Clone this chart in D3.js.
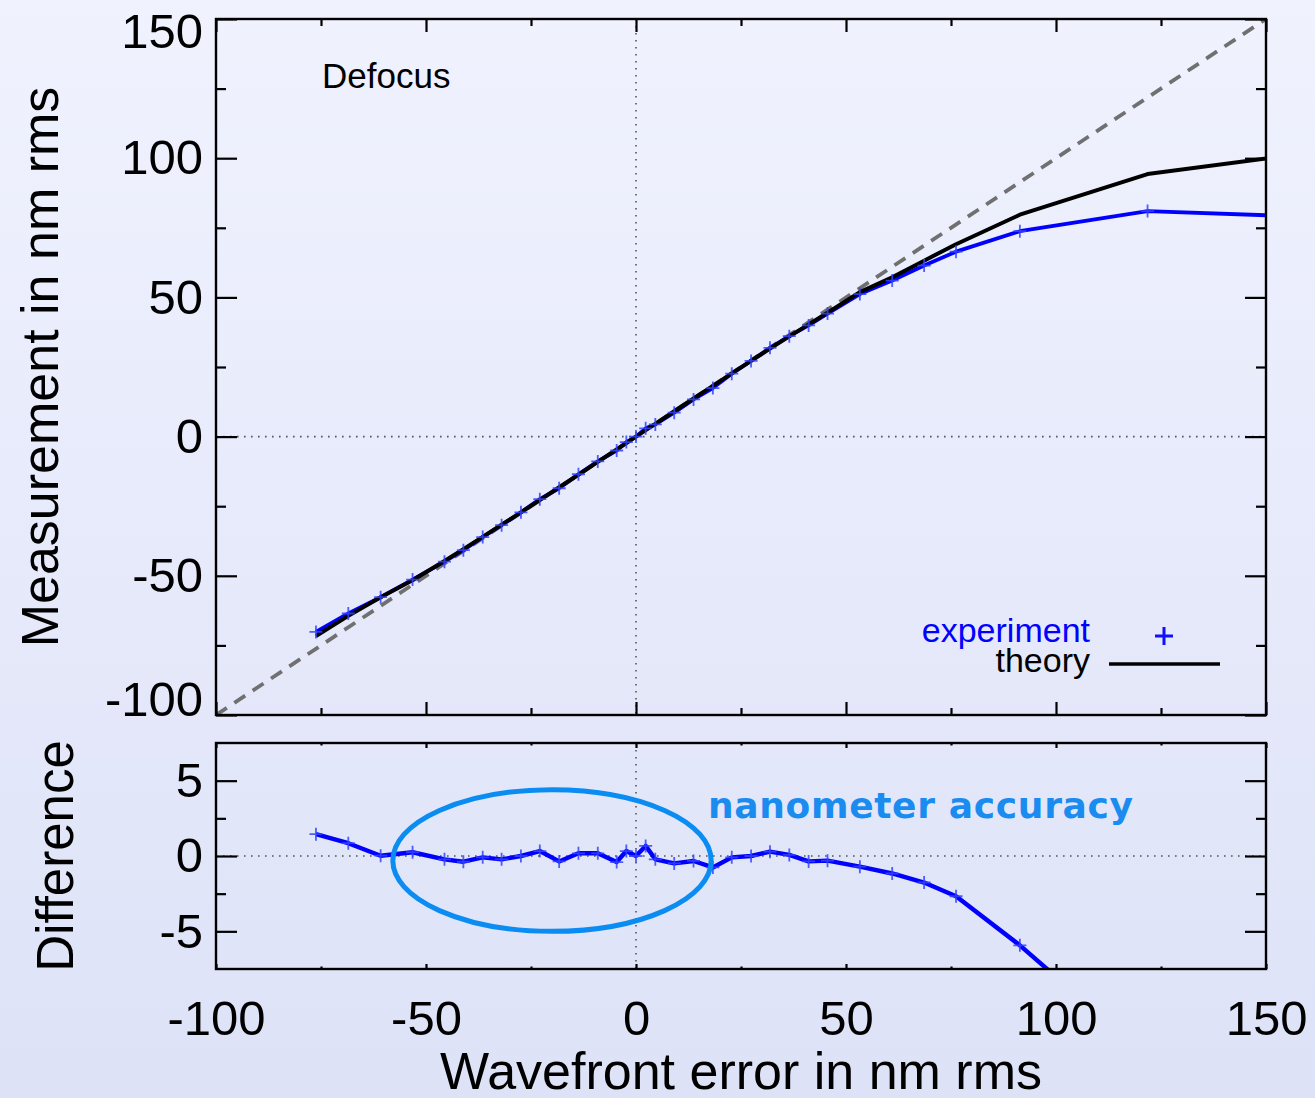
<!DOCTYPE html>
<html>
<head>
<meta charset="utf-8">
<script src="https://cdn.jsdelivr.net/npm/d3@7"></script>
<style>
  html, body { margin: 0; padding: 0; }
  body { width: 1315px; height: 1098px; overflow: hidden; }
</style>
</head>
<body>
<div id="chart"></div>
<script>
// wavefront error (x), shared by every series
const xVals = [-76.2,-68.5,-60.8,-53.2,-45.6,-41.1,-36.5,-32.0,-27.4,-22.9,-18.3,-13.7,-9.1,-4.6,-2.3,0,
               2.3,4.6,9.1,13.7,18.3,22.8,27.4,31.9,36.5,41.1,45.6,53.3,61.0,68.6,76.2,91.4,121.8,152.0];
const theory = [-71.6,-64.4,-57.7,-51.6,-44.7,-40.4,-36.0,-31.6,-27.2,-22.8,-18.2,-13.7,-9.1,-4.6,-2.3,0,
                2.3,4.6,9.1,13.7,18.2,22.7,27.2,31.6,36.0,40.3,44.5,51.9,57.2,63.2,69.1,79.7,94.3,100.3];
const experiment = [-70.15,-63.55,-57.68,-51.35,-44.92,-40.78,-36.09,-31.82,-27.2,-22.47,-18.56,-13.52,-8.92,-5.0,-1.97,0,
                    2.97,4.38,8.61,13.37,17.44,22.61,27.2,31.89,36.07,39.94,44.19,51.19,56.04,61.44,66.43,73.77,81.0,79.4];
const difference = [1.45,0.85,0.02,0.25,-0.22,-0.38,-0.09,-0.22,0.0,0.33,-0.36,0.18,0.18,-0.40,0.33,0.0,
                    0.67,-0.22,-0.49,-0.33,-0.76,-0.09,0.0,0.29,0.07,-0.36,-0.31,-0.71,-1.16,-1.76,-2.67,-5.93,-13.3,-20.9];

const xTicks = [-100,-50,0,50,100,150];
const xMinor = [-75,-25,25,75,125];
const yTopTicks = [-100,-50,0,50,100,150];
const yTopMinor = [-75,-25,25,75,125];
const yBotTicks = [-5,0,5];
const yBotMinor = [-2.5,2.5];
const idealLine = [-100,150];   // y = x reference
const ellipseMark = {cx:-20, cy:-0.3, rx:37.9, ry:4.7};

const W = 1315, H = 1098;
const left = 216, right = 1266;
const topT = 19, topB = 715;
const botT = 743, botB = 969;
const font = "'Liberation Sans', Arial, Helvetica, sans-serif";
const fmt = d => String(d);   // plain hyphen minus, like the original

const svg = d3.select("#chart").append("svg")
    .attr("width", W).attr("height", H)
    .attr("viewBox", `0 0 ${W} ${H}`);

const defs = svg.append("defs");
const grad = defs.append("linearGradient").attr("id","bg").attr("x1",0).attr("y1",0).attr("x2",0).attr("y2",1);
grad.append("stop").attr("offset","0%").attr("stop-color","#f0f2fe");
grad.append("stop").attr("offset","100%").attr("stop-color","#dde2f7");
svg.append("rect").attr("width",W).attr("height",H).attr("fill","url(#bg)");

defs.append("clipPath").attr("id","clipTop").append("rect")
    .attr("x",left).attr("y",topT).attr("width",right-left).attr("height",topB-topT);
defs.append("clipPath").attr("id","clipBot").append("rect")
    .attr("x",left).attr("y",botT).attr("width",right-left).attr("height",botB-botT);

const x = d3.scaleLinear().domain([-100,150]).range([left,right]);
const yTop = d3.scaleLinear().domain([-100,150]).range([topB,topT]);
const yBot = d3.scaleLinear().domain([-7.5,7.5]).range([botB,botT]);

const pts = (ys) => xVals.map((v,i) => [v, ys[i]]);
const plus = (s) => `M${-s},0H${s}M0,${-s}V${s}`;

function styleAxis(g, size) {
    g.select(".domain").remove();
    g.selectAll("line").attr("stroke","#000").attr("stroke-width",2.2);
    g.selectAll("text").attr("font-family",font).attr("font-size",size).attr("fill","#000");
}

// ---------- top panel ----------
const gt = svg.append("g");

// zero lines
gt.append("line").attr("x1",x(0)).attr("x2",x(0)).attr("y1",topT).attr("y2",topB)
    .attr("stroke","#555").attr("stroke-width",1.6).attr("stroke-dasharray","1.6,5.4");
gt.append("line").attr("x1",left).attr("x2",right).attr("y1",yTop(0)).attr("y2",yTop(0))
    .attr("stroke","#555").attr("stroke-width",1.6).attr("stroke-dasharray","1.6,5.4");

const ct = gt.append("g").attr("clip-path","url(#clipTop)");
ct.append("line")
    .attr("x1",x(idealLine[0])).attr("y1",yTop(idealLine[0]))
    .attr("x2",x(idealLine[1])).attr("y2",yTop(idealLine[1]))
    .attr("stroke","#707070").attr("stroke-width",3.8).attr("stroke-dasharray","13,9");

const lineTop = d3.line().x(d => x(d[0])).y(d => yTop(d[1]));
ct.append("path").attr("d",lineTop(pts(experiment)))
    .attr("fill","none").attr("stroke","#0000ff").attr("stroke-width",3.8).attr("stroke-linejoin","round");
ct.append("path").attr("d",lineTop(pts(theory)))
    .attr("fill","none").attr("stroke","#000").attr("stroke-width",4).attr("stroke-linejoin","round");
ct.selectAll(".pt").data(pts(experiment)).enter().append("path")
    .attr("transform", d => `translate(${x(d[0])},${yTop(d[1])})`)
    .attr("d", plus(6.5)).attr("stroke","#3344ff").attr("stroke-opacity",0.85).attr("stroke-width",1.8);

// axes (ticks pointing inward)
gt.append("g").attr("transform",`translate(0,${topB})`)
    .call(d3.axisBottom(x).tickValues(xTicks).tickSize(-13).tickFormat(""))
    .call(g => styleAxis(g, 0));
gt.append("g").attr("transform",`translate(0,${topB})`)
    .call(d3.axisBottom(x).tickValues(xMinor).tickSize(-7).tickFormat(""))
    .call(g => styleAxis(g, 0));
gt.append("g").attr("transform",`translate(0,${topT})`)
    .call(d3.axisTop(x).tickValues(xTicks).tickSize(-13).tickFormat(""))
    .call(g => styleAxis(g, 0));
gt.append("g").attr("transform",`translate(0,${topT})`)
    .call(d3.axisTop(x).tickValues(xMinor).tickSize(-7).tickFormat(""))
    .call(g => styleAxis(g, 0));
gt.append("g").attr("transform",`translate(${left},0)`)
    .call(d3.axisLeft(yTop).tickValues(yTopTicks).tickSize(-21).tickPadding(13).tickFormat(fmt))
    .call(g => styleAxis(g, 49))
    .call(g => g.selectAll("text").attr("y", d => d === 150 ? 13 : (d === -100 ? -15 : 0)));
gt.append("g").attr("transform",`translate(${left},0)`)
    .call(d3.axisLeft(yTop).tickValues(yTopMinor).tickSize(-10).tickFormat(""))
    .call(g => styleAxis(g, 0));
gt.append("g").attr("transform",`translate(${right},0)`)
    .call(d3.axisRight(yTop).tickValues(yTopTicks).tickSize(-21).tickFormat(""))
    .call(g => styleAxis(g, 0));
gt.append("g").attr("transform",`translate(${right},0)`)
    .call(d3.axisRight(yTop).tickValues(yTopMinor).tickSize(-10).tickFormat(""))
    .call(g => styleAxis(g, 0));

gt.append("rect").attr("x",left).attr("y",topT).attr("width",right-left).attr("height",topB-topT)
    .attr("fill","none").attr("stroke","#000").attr("stroke-width",2.4);

gt.append("text").attr("x",322).attr("y",88).text("Defocus")
    .attr("font-family",font).attr("font-size",35).attr("fill","#000");

// legend
gt.append("text").attr("x",1090).attr("y",642).attr("text-anchor","end").text("experiment")
    .attr("font-family",font).attr("font-size",34).attr("fill","#0000ff");
gt.append("text").attr("x",1090).attr("y",672).attr("text-anchor","end").text("theory")
    .attr("font-family",font).attr("font-size",34).attr("fill","#000");
gt.append("path").attr("transform","translate(1164,636)").attr("d",plus(9))
    .attr("stroke","#1010ff").attr("stroke-width",3);
gt.append("line").attr("x1",1109).attr("x2",1220).attr("y1",664).attr("y2",664)
    .attr("stroke","#000").attr("stroke-width",3.6);

gt.append("text").attr("transform",`translate(58,${(topT+topB)/2}) rotate(-90)`)
    .attr("text-anchor","middle").text("Measurement in nm rms")
    .attr("font-family",font).attr("font-size",52).attr("fill","#000");

// ---------- bottom panel ----------
const gb = svg.append("g");
gb.append("line").attr("x1",x(0)).attr("x2",x(0)).attr("y1",botT).attr("y2",botB)
    .attr("stroke","#555").attr("stroke-width",1.6).attr("stroke-dasharray","1.6,5.4");
gb.append("line").attr("x1",left).attr("x2",right).attr("y1",yBot(0)).attr("y2",yBot(0))
    .attr("stroke","#555").attr("stroke-width",1.6).attr("stroke-dasharray","1.6,5.4");

const cb = gb.append("g").attr("clip-path","url(#clipBot)");
const lineBot = d3.line().x(d => x(d[0])).y(d => yBot(d[1]));
cb.append("path").attr("d",lineBot(pts(difference)))
    .attr("fill","none").attr("stroke","#0000ff").attr("stroke-width",4.4).attr("stroke-linejoin","round");
cb.selectAll(".pt").data(pts(difference)).enter().append("path")
    .attr("transform", d => `translate(${x(d[0])},${yBot(d[1])})`)
    .attr("d", plus(6.5)).attr("stroke","#3344ff").attr("stroke-opacity",0.85).attr("stroke-width",1.8);

// highlight ellipse
gb.append("ellipse")
    .attr("cx", x(ellipseMark.cx)).attr("cy", yBot(ellipseMark.cy))
    .attr("rx", x(ellipseMark.cx + ellipseMark.rx) - x(ellipseMark.cx))
    .attr("ry", yBot(ellipseMark.cy) - yBot(ellipseMark.cy + ellipseMark.ry))
    .attr("fill","none").attr("stroke","#0a8cf2").attr("stroke-width",5);

gb.append("text").attr("x",708).attr("y",818).text("nanometer accuracy")
    .attr("font-family","'DejaVu Sans', Verdana, sans-serif").attr("font-weight","bold")
    .attr("font-size",36).attr("fill","#1a8cf0")
    .attr("textLength",425).attr("lengthAdjust","spacing");

gb.append("g").attr("transform",`translate(0,${botB})`)
    .call(d3.axisBottom(x).tickValues(xTicks).tickSize(-5).tickPadding(31).tickFormat(fmt))
    .call(g => styleAxis(g, 49));
gb.append("g").attr("transform",`translate(0,${botB})`)
    .call(d3.axisBottom(x).tickValues(xMinor).tickSize(-2.5).tickFormat(""))
    .call(g => styleAxis(g, 0));
gb.append("g").attr("transform",`translate(0,${botT})`)
    .call(d3.axisTop(x).tickValues(xTicks).tickSize(-5).tickFormat(""))
    .call(g => styleAxis(g, 0));
gb.append("g").attr("transform",`translate(0,${botT})`)
    .call(d3.axisTop(x).tickValues(xMinor).tickSize(-2.5).tickFormat(""))
    .call(g => styleAxis(g, 0));
gb.append("g").attr("transform",`translate(${left},0)`)
    .call(d3.axisLeft(yBot).tickValues(yBotTicks).tickSize(-21).tickPadding(13).tickFormat(fmt))
    .call(g => styleAxis(g, 49));
gb.append("g").attr("transform",`translate(${left},0)`)
    .call(d3.axisLeft(yBot).tickValues(yBotMinor).tickSize(-10).tickFormat(""))
    .call(g => styleAxis(g, 0));
gb.append("g").attr("transform",`translate(${right},0)`)
    .call(d3.axisRight(yBot).tickValues(yBotTicks).tickSize(-21).tickFormat(""))
    .call(g => styleAxis(g, 0));
gb.append("g").attr("transform",`translate(${right},0)`)
    .call(d3.axisRight(yBot).tickValues(yBotMinor).tickSize(-10).tickFormat(""))
    .call(g => styleAxis(g, 0));

gb.append("rect").attr("x",left).attr("y",botT).attr("width",right-left).attr("height",botB-botT)
    .attr("fill","none").attr("stroke","#000").attr("stroke-width",2.4);

gb.append("text").attr("transform",`translate(73,${(botT+botB)/2}) rotate(-90)`)
    .attr("text-anchor","middle").text("Difference")
    .attr("font-family",font).attr("font-size",51).attr("fill","#000");

svg.append("text").attr("x",(left+right)/2).attr("y",1089).attr("text-anchor","middle")
    .text("Wavefront error in nm rms")
    .attr("font-family",font).attr("font-size",52).attr("fill","#000");
</script>
</body>
</html>
